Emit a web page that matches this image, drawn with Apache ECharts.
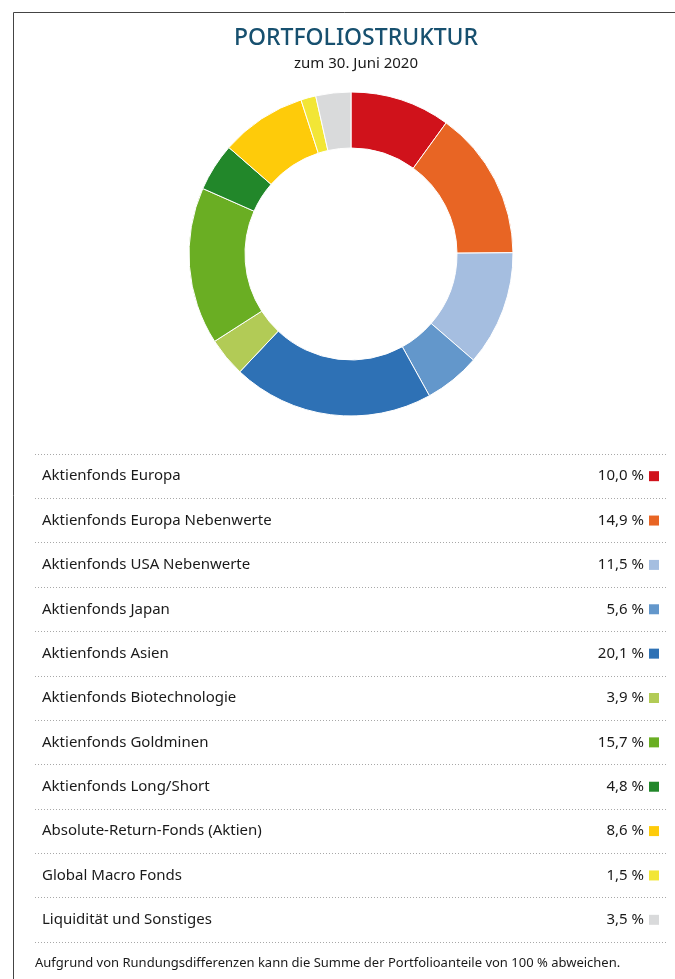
<!DOCTYPE html>
<html>
<head>
<meta charset="utf-8">
<script src="https://cdn.jsdelivr.net/npm/echarts@6/dist/echarts.min.js"></script>
<style>
  html, body { margin: 0; padding: 0; background: #fff; }
  #main { width: 675px; height: 979px; }
</style>
</head>
<body>
<div id="main"></div>
<script>
// Portfoliostruktur zum 30. Juni 2020
var categories = [
    "Aktienfonds Europa",
    "Aktienfonds Europa Nebenwerte",
    "Aktienfonds USA Nebenwerte",
    "Aktienfonds Japan",
    "Aktienfonds Asien",
    "Aktienfonds Biotechnologie",
    "Aktienfonds Goldminen",
    "Aktienfonds Long/Short",
    "Absolute-Return-Fonds (Aktien)",
    "Global Macro Fonds",
    "Liquidität und Sonstiges"
];
var shares = [10.0, 14.9, 11.5, 5.6, 20.1, 3.9, 15.7, 4.8, 8.6, 1.5, 3.5];
var colors = ["#d0121b", "#e86524", "#a5bee0", "#6397cb", "#2e71b5",
              "#b2cb56", "#6aae23", "#22872a", "#fecb0a", "#f2e636", "#d9dadb"];

var FONT = "Noto Sans";

// 颜色方块 rich 样式
var rich = { v: { fontFamily: FONT, fontSize: 15, color: "#1a1a1a", padding: [0, 5, 0, 0] } };
colors.forEach(function (c, i) {
    rich["s" + i] = { width: 10, height: 10, backgroundColor: c };
});

var chart = echarts.init(document.getElementById("main"));

var option = {
    backgroundColor: "#fff",
    title: [{
        text: "PORTFOLIOSTRUKTUR",
        left: 351, top: 22, textAlign: "center",
        textStyle: { fontFamily: FONT, fontSize: 23, fontWeight: 500, color: "#17506f" }
    }, {
        text: "zum 30. Juni 2020",
        left: 351, top: 51, textAlign: "center",
        textStyle: { fontFamily: FONT, fontSize: 15, fontWeight: "normal", color: "#1a1a1a" }
    }, {
        text: "Aufgrund von Rundungsdifferenzen kann die Summe der Portfolioanteile von 100 % abweichen.",
        left: 30, top: 952,
        textStyle: { fontFamily: FONT, fontSize: 13, fontWeight: "normal", color: "#1a1a1a" }
    }],
    // 外框
    graphic: [{
        type: "polyline",
        shape: { points: [[13.5, 979], [13.5, 12.5], [675, 12.5]] },
        style: { stroke: "#444", lineWidth: 1, fill: null }
    }],
    grid: { left: 35, right: 7, top: 454, height: 488 },
    xAxis: { type: "value", show: false, min: 0, max: 1 },
    yAxis: [{
        type: "category",
        data: categories,
        inverse: true,
        position: "left",
        axisLine: { show: false },
        axisTick: { show: false },
        axisLabel: {
            inside: true, margin: 7,
            fontFamily: FONT, fontSize: 15, color: "#1a1a1a"
        },
        splitLine: { show: true, lineStyle: { color: "#a8a8a8", type: [1, 2], width: 1 } }
    }, {
        type: "category",
        data: categories,
        inverse: true,
        position: "right",
        axisLine: { show: false },
        axisTick: { show: false },
        splitLine: { show: false },
        axisLabel: {
            inside: true, margin: 9,
            formatter: function (val, idx) {
                return "{v|" + shares[idx].toFixed(1).replace(".", ",") + " %}{s" + idx + "|}";
            },
            rich: rich
        }
    }],
    series: [{
        type: "pie",
        center: [351, 254],
        radius: [106, 162],
        startAngle: 90,
        clockwise: true,
        silent: true,
        label: { show: false },
        labelLine: { show: false },
        itemStyle: { borderColor: "#fff", borderWidth: 1 },
        data: categories.map(function (n, i) {
            return { name: n, value: shares[i], itemStyle: { color: colors[i] } };
        })
    }]
};

chart.setOption(option);
</script>
</body>
</html>
